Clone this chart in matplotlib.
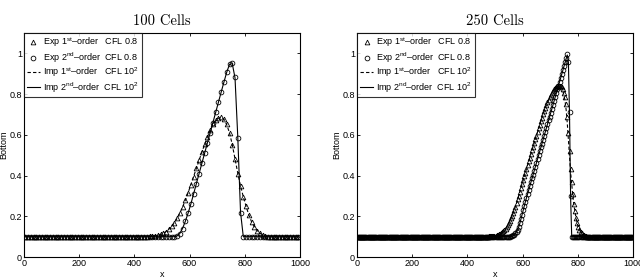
import numpy as np
import matplotlib
matplotlib.use("Agg")
import matplotlib.pyplot as plt
from matplotlib.lines import Line2D

plt.rcParams['font.family'] = ['Liberation Sans', 'DejaVu Sans']
plt.rcParams['mathtext.fontset'] = 'custom'
plt.rcParams['mathtext.rm'] = 'Liberation Sans'
plt.rcParams['mathtext.it'] = 'Liberation Sans:italic'
plt.rcParams['mathtext.bf'] = 'Liberation Sans:bold'

# ---------------- data ----------------
titles = ["100 Cells", "250 Cells"]
n_cells = [100, 250]
base = 0.1

legend_labels = [r"Exp 1$^{\mathrm{st}}$–order   CFL 0.8",
                 r"Exp 2$^{\mathrm{nd}}$–order  CFL 0.8",
                 r"Imp 1$^{\mathrm{st}}$–order   CFL 10$^{\mathrm{2}}$",
                 r"Imp 2$^{\mathrm{nd}}$–order  CFL 10$^{\mathrm{2}}$"]

xticks = [0, 200, 400, 600, 800, 1000]
yticks = [0, 0.2, 0.4, 0.6, 0.8, 1.0]
ytick_labels = ["0", "0.2", "0.4", "0.6", "0.8", "1"]

# 100 cells (cell centres 5..995); bump values start at index given
c100_exp1_start = 44
c100_exp1 = [0.100, 0.101, 0.102, 0.104, 0.107, 0.111, 0.117, 0.125, 0.136, 0.150,
             0.167, 0.190, 0.215, 0.245, 0.280, 0.315, 0.355, 0.395, 0.435, 0.475,
             0.515, 0.555, 0.590, 0.625, 0.652, 0.672, 0.685, 0.688, 0.678, 0.652,
             0.610, 0.550, 0.480, 0.410, 0.350, 0.295, 0.250, 0.205, 0.172, 0.148,
             0.130, 0.117, 0.108, 0.103, 0.100]
c100_imp1_start = 44
c100_imp1 = [0.100, 0.101, 0.102, 0.104, 0.107, 0.111, 0.117, 0.125, 0.136, 0.151,
             0.168, 0.190, 0.216, 0.246, 0.280, 0.316, 0.356, 0.396, 0.436, 0.476,
             0.516, 0.554, 0.590, 0.622, 0.650, 0.670, 0.682, 0.685, 0.676, 0.650,
             0.610, 0.552, 0.482, 0.412, 0.350, 0.296, 0.250, 0.207, 0.173, 0.149,
             0.131, 0.118, 0.109, 0.103, 0.100]
c100_exp2_start = 54
c100_exp2 = [0.100, 0.104, 0.115, 0.140, 0.175, 0.215, 0.260, 0.310, 0.360, 0.410,
             0.460, 0.510, 0.560, 0.610, 0.660, 0.710, 0.760, 0.810, 0.860, 0.910,
             0.950, 0.955, 0.885, 0.585, 0.215, 0.100]
c100_imp2_start = 54
c100_imp2 = [0.100, 0.104, 0.116, 0.141, 0.176, 0.216, 0.261, 0.311, 0.361, 0.411,
             0.461, 0.511, 0.561, 0.611, 0.661, 0.711, 0.761, 0.811, 0.860, 0.908,
             0.946, 0.950, 0.880, 0.590, 0.220, 0.100]

# 250 cells (cell centres 2..998)
c250_exp1_start = 117
c250_exp1 = [0.100, 0.100, 0.101, 0.101, 0.102, 0.102, 0.103, 0.104, 0.105, 0.107,
             0.109, 0.111, 0.114, 0.118, 0.122, 0.127, 0.133, 0.140, 0.148, 0.157,
             0.167, 0.178, 0.190, 0.203, 0.217, 0.232, 0.248, 0.265, 0.283, 0.301,
             0.320, 0.339, 0.358, 0.377, 0.396, 0.415, 0.434, 0.452, 0.470, 0.488,
             0.506, 0.524, 0.542, 0.560, 0.578, 0.596, 0.614, 0.632, 0.650, 0.667,
             0.684, 0.700, 0.716, 0.731, 0.746, 0.760, 0.773, 0.785, 0.796, 0.806,
             0.815, 0.823, 0.830, 0.835, 0.839, 0.841, 0.842, 0.840, 0.834, 0.824,
             0.808, 0.786, 0.750, 0.690, 0.610, 0.520, 0.430, 0.370, 0.310, 0.260,
             0.225, 0.190, 0.167, 0.148, 0.135, 0.124, 0.116, 0.110, 0.106, 0.103,
             0.101, 0.100]
c250_imp1_start = 117
c250_imp1 = [0.100, 0.100, 0.101, 0.101, 0.102, 0.102, 0.103, 0.104, 0.105, 0.107,
             0.109, 0.111, 0.114, 0.118, 0.122, 0.127, 0.133, 0.140, 0.148, 0.157,
             0.167, 0.178, 0.190, 0.203, 0.217, 0.232, 0.248, 0.265, 0.283, 0.301,
             0.320, 0.339, 0.358, 0.377, 0.396, 0.415, 0.434, 0.452, 0.470, 0.488,
             0.506, 0.524, 0.542, 0.560, 0.578, 0.596, 0.614, 0.632, 0.650, 0.667,
             0.684, 0.700, 0.716, 0.731, 0.746, 0.760, 0.773, 0.785, 0.796, 0.806,
             0.815, 0.822, 0.828, 0.833, 0.836, 0.838, 0.838, 0.835, 0.828, 0.815,
             0.795, 0.765, 0.720, 0.655, 0.575, 0.490, 0.415, 0.355, 0.300, 0.255,
             0.220, 0.188, 0.165, 0.147, 0.134, 0.123, 0.115, 0.110, 0.106, 0.103,
             0.101, 0.100]
c250_exp2_start = 138
c250_exp2 = [0.100, 0.101, 0.103, 0.106, 0.110, 0.116, 0.124, 0.135, 0.149, 0.166,
             0.186, 0.208, 0.230, 0.252, 0.272, 0.291, 0.310, 0.329, 0.348, 0.367,
             0.386, 0.405, 0.424, 0.443, 0.462, 0.481, 0.500, 0.519, 0.538, 0.557,
             0.576, 0.595, 0.614, 0.633, 0.652, 0.671, 0.690, 0.709, 0.728, 0.747,
             0.766, 0.785, 0.804, 0.823, 0.842, 0.861, 0.880, 0.899, 0.918, 0.937,
             0.956, 0.975, 0.996, 0.960, 0.710, 0.300, 0.100]
c250_imp2_start = 138
c250_imp2 = [0.100, 0.101, 0.103, 0.106, 0.110, 0.116, 0.124, 0.135, 0.149, 0.166,
             0.186, 0.208, 0.230, 0.252, 0.272, 0.291, 0.310, 0.329, 0.348, 0.367,
             0.386, 0.405, 0.424, 0.443, 0.462, 0.481, 0.500, 0.519, 0.538, 0.557,
             0.576, 0.595, 0.614, 0.633, 0.652, 0.671, 0.690, 0.709, 0.728, 0.747,
             0.766, 0.785, 0.804, 0.823, 0.842, 0.861, 0.880, 0.899, 0.918, 0.937,
             0.956, 0.975, 0.992, 0.955, 0.700, 0.290, 0.100]


def full_series(n, start, bump):
    vals = [base] * start + list(bump)
    vals = vals + [base] * (n - len(vals))
    return np.array(vals[:n])


datasets = [
    (c100_exp1_start, c100_exp1, c100_exp2_start, c100_exp2,
     c100_imp1_start, c100_imp1, c100_imp2_start, c100_imp2),
    (c250_exp1_start, c250_exp1, c250_exp2_start, c250_exp2,
     c250_imp1_start, c250_imp1, c250_imp2_start, c250_imp2),
]

fig = plt.figure(figsize=(6.4, 2.8), dpi=100)
axes_rects = [[0.0375, 0.082, 0.431, 0.8], [0.558, 0.082, 0.431, 0.8]]

ms = 3.4
mew = 0.6
for k in range(2):
    ax = fig.add_axes(axes_rects[k])
    n = n_cells[k]
    dx = 1000.0 / n
    x = (np.arange(n) + 0.5) * dx
    s1, e1, s2, e2, si1, i1, si2, i2 = datasets[k]
    y_e1 = full_series(n, s1, e1)
    y_e2 = full_series(n, s2, e2)
    y_i1 = full_series(n, si1, i1)
    y_i2 = full_series(n, si2, i2)

    ax.plot(x, y_e1, linestyle='none', marker='^', markersize=ms, mfc='none',
            mec='black', mew=mew)
    ax.plot(x, y_e2, linestyle='none', marker='o', markersize=ms, mfc='none',
            mec='black', mew=mew)
    ax.plot(x, y_i1, linestyle=(0, (3, 2)), color='black', linewidth=0.8)
    ax.plot(x, y_i2, linestyle='-', color='black', linewidth=0.8)

    ax.set_xlim(0, 1000)
    ax.set_ylim(0, 1.1)
    ax.set_xticks(xticks)
    ax.set_xticklabels([str(t) for t in xticks])
    ax.set_yticks(yticks)
    ax.set_yticklabels(ytick_labels)
    ax.tick_params(direction='in', top=True, right=True, length=2.5, width=0.6,
                   labelsize=6.5, pad=1.5, colors='black')
    for sp in ax.spines.values():
        sp.set_linewidth(0.8)
    ax.set_xlabel("x", fontsize=6.5, labelpad=1)
    ax.set_ylabel("Bottom", fontsize=6.5, labelpad=1)
    ax.set_title(titles[k], fontfamily='cmr10', fontsize=10.5, pad=6)

    handles = [
        Line2D([], [], linestyle='none', marker='^', markersize=ms, mfc='none',
               mec='black', mew=mew),
        Line2D([], [], linestyle='none', marker='o', markersize=ms, mfc='none',
               mec='black', mew=mew),
        Line2D([], [], linestyle=(0, (3, 2)), color='black', linewidth=0.8),
        Line2D([], [], linestyle='-', color='black', linewidth=0.8),
    ]
    leg = ax.legend(handles, legend_labels, loc='upper left', fontsize=6.5,
                    frameon=True, fancybox=False, borderaxespad=0.0,
                    handlelength=1.5, handletextpad=0.3, labelspacing=0.1,
                    borderpad=0.3)
    leg.get_frame().set_edgecolor('black')
    leg.get_frame().set_linewidth(0.8)

fig.savefig("out.png", dpi=100)
